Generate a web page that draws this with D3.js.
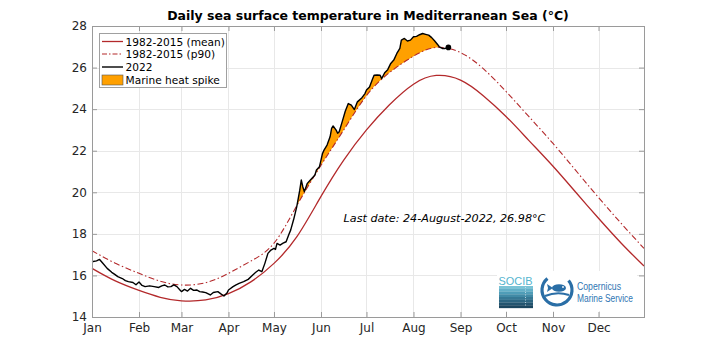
<!DOCTYPE html>
<html><head><meta charset="utf-8">
<script src="https://cdn.jsdelivr.net/npm/d3@7"></script>
<style>body{margin:0;background:#fff}svg{display:block}</style>
</head><body>
<svg id="chart" width="712" height="356"></svg>
<script>
// ---------- data ----------
const monthLabels = ["Jan","Feb","Mar","Apr","May","Jun","Jul","Aug","Sep","Oct","Nov","Dec"];
const monthStartDays = [0,31,59,90,120,151,181,212,243,273,304,334];
const yTicks = [14,16,18,20,22,24,26,28];

const climDays = [0,15,31,45,59,75,90,105,120,135,151,166,181,196,212,227,243,258,273,288,304,319,334,349,364];
const meanValues = [16.34,15.75,15.28,14.95,14.78,14.82,15.12,15.70,16.58,17.85,19.80,21.55,23.00,24.20,25.20,25.62,25.40,24.65,23.65,22.50,21.25,20.00,18.75,17.55,16.45];
const p90Values = [17.19,16.60,16.10,15.72,15.54,15.65,16.10,16.70,17.55,19.35,21.30,23.00,24.65,25.75,26.55,26.97,26.72,25.95,24.85,23.65,22.35,21.05,19.75,18.50,17.30];

const days2022 = [0,3,5,7,10,13,15,17,20,22,24,27,29,31,33,35,38,41,44,46,48,50,52,54,56,58,59,61,63,65,67,69,71,73,75,77,78,80,83,85,87,89,90,93,95,97,100,103,106,108,110,112,114,116,118,120,121,122,124,126,128,130,131,133,135,137,138,139,140,142,144,146,147,148,150,151,152,153,155,157,158,159,161,162,163,165,167,169,171,173,175,178,180,181,183,185,186,188,190,191,193,195,197,198,199,201,203,204,206,208,210,212,214,216,218,220,222,224,226,228,229,231,233,235];
const sst2022 = [16.66,16.70,16.77,16.60,16.34,16.15,16.05,15.94,15.85,15.75,15.70,15.66,15.55,15.68,15.52,15.46,15.50,15.46,15.42,15.50,15.54,15.45,15.46,15.55,15.46,15.30,15.22,15.33,15.25,15.38,15.28,15.30,15.22,15.20,15.17,15.10,15.06,15.18,15.22,15.11,15.01,15.15,15.30,15.46,15.55,15.62,15.70,15.81,16.02,16.15,16.26,16.18,16.58,17.06,17.22,17.30,17.25,17.54,17.46,17.55,17.62,18.00,18.18,18.70,19.30,20.10,20.59,20.27,20.03,20.43,20.59,20.75,20.83,21.07,21.23,21.55,21.87,22.03,22.27,22.67,23.07,23.19,22.99,22.84,22.91,23.40,23.90,24.27,24.19,23.98,24.35,24.55,24.75,24.92,25.07,25.45,25.63,25.64,25.63,25.47,25.75,25.90,26.20,26.28,26.36,26.68,26.92,27.32,27.40,27.28,27.32,27.48,27.50,27.58,27.64,27.60,27.56,27.44,27.28,27.10,27.00,26.92,26.92,26.97];

const titleText = "Daily sea surface temperature in Mediterranean Sea (°C)";
const legendLabels = ["1982-2015 (mean)","1982-2015 (p90)","2022","Marine heat spike"];
const lastDateText = "Last date: 24-August-2022, 26.98°C";

// ---------- layout ----------
const L = 92, R = 644, T = 26, B = 317;
const RED = "#b3292b", ORANGE = "#ffa000", FONT = "DejaVu Sans, sans-serif";
const svg = d3.select("#chart");
const x = d3.scaleLinear().domain([0,364]).range([L,R]);
const y = d3.scaleLinear().domain([14,28]).range([B,T]);

const clim = climDays.map((d,i)=>({d, mean:meanValues[i], p90:p90Values[i]}));
const obs = days2022.map((d,i)=>({d, v:sst2022[i]}));

// grid
const grid = svg.append("g").attr("stroke","#e8e8e8").attr("stroke-width",1);
grid.selectAll(".gx").data(monthStartDays.slice(1)).join("line")
  .attr("x1",d=>Math.round(x(d))+0.5).attr("x2",d=>Math.round(x(d))+0.5).attr("y1",T).attr("y2",B);
grid.selectAll(".gy").data(yTicks.slice(1,-1)).join("line")
  .attr("y1",d=>Math.round(y(d))+0.5).attr("y2",d=>Math.round(y(d))+0.5).attr("x1",L).attr("x2",R);

// clip: region above p90
const defs = svg.append("defs");
defs.append("clipPath").attr("id","abovep90").append("path")
  .attr("d", d3.area().x(c=>x(c.d)).y0(T).y1(c=>y(c.p90)).curve(d3.curveNatural)(clim));

// heat spike fill
svg.append("path").attr("clip-path","url(#abovep90)")
  .attr("d", d3.area().x(o=>x(o.d)).y0(B).y1(o=>y(o.v))(obs))
  .attr("fill",ORANGE).attr("stroke","none");

// mean & p90
svg.append("path").attr("d", d3.line().x(c=>x(c.d)).y(c=>y(c.mean)).curve(d3.curveNatural)(clim))
  .attr("fill","none").attr("stroke",RED).attr("stroke-width",1.3);
svg.append("path").attr("d", d3.line().x(c=>x(c.d)).y(c=>y(c.p90)).curve(d3.curveNatural)(clim))
  .attr("fill","none").attr("stroke",RED).attr("stroke-width",1.1).attr("stroke-dasharray","6,2.5,1.5,2.5");

// 2022
svg.append("path").attr("d", d3.line().x(o=>x(o.d)).y(o=>y(o.v))(obs))
  .attr("fill","none").attr("stroke","#000").attr("stroke-width",1.4).attr("stroke-linejoin","round");
const last = obs[obs.length-1];
svg.append("circle").attr("cx",x(last.d)).attr("cy",y(last.v)).attr("r",2.8).attr("fill","#000");

// axes
const xAxis = d3.axisBottom(x).tickValues(monthStartDays).tickFormat((d,i)=>monthLabels[i]).tickSizeInner(-5).tickSizeOuter(0).tickPadding(6);
const gx = svg.append("g").attr("transform",`translate(0,${B})`).call(xAxis);
const yAxis = d3.axisLeft(y).tickValues(yTicks).tickSizeInner(-5).tickSizeOuter(0).tickPadding(5);
const gy = svg.append("g").attr("transform",`translate(${L},0)`).call(yAxis);
// mirrored ticks
const gxt = svg.append("g").attr("transform",`translate(0,${T})`).call(d3.axisTop(x).tickValues(monthStartDays).tickFormat("").tickSizeInner(-5).tickSizeOuter(0));
const gyr = svg.append("g").attr("transform",`translate(${R},0)`).call(d3.axisRight(y).tickValues(yTicks).tickFormat("").tickSizeInner(-5).tickSizeOuter(0));
[gx,gy,gxt,gyr].forEach(g=>{
  g.select(".domain").remove();
  g.selectAll("line").attr("stroke","#9a9a9a");
  g.selectAll("text").attr("font-family",FONT).attr("font-size",12).attr("fill","#262626");
});
svg.append("rect").attr("x",L+0.5).attr("y",T+0.5).attr("width",R-L).attr("height",B-T)
  .attr("fill","none").attr("stroke","#9a9a9a").attr("stroke-width",1);

// title
svg.append("text").attr("x",368).attr("y",20).attr("text-anchor","middle")
  .attr("font-family",FONT).attr("font-weight","bold").attr("font-size",12.5).attr("fill","#000").text(titleText);

// legend
const lg = svg.append("g");
lg.append("rect").attr("x",99.5).attr("y",33.5).attr("width",127).attr("height",54)
  .attr("fill","#fff").attr("stroke","#a0a0a0").attr("stroke-width",1);
const rowY = [41.5,54,67,80];
lg.append("line").attr("x1",102).attr("x2",123).attr("y1",rowY[0]).attr("y2",rowY[0]).attr("stroke",RED).attr("stroke-width",1.3);
lg.append("line").attr("x1",102).attr("x2",123).attr("y1",rowY[1]).attr("y2",rowY[1]).attr("stroke",RED).attr("stroke-width",1.1).attr("stroke-dasharray","5,2,1.5,2");
lg.append("line").attr("x1",102).attr("x2",123).attr("y1",rowY[2]).attr("y2",rowY[2]).attr("stroke","#000").attr("stroke-width",1.4);
lg.append("rect").attr("x",102).attr("y",rowY[3]-5).attr("width",21).attr("height",10).attr("fill",ORANGE).attr("stroke","#555").attr("stroke-width",0.6);
lg.selectAll("text.lab").data(legendLabels).join("text").attr("class","lab")
  .attr("x",125.5).attr("y",(d,i)=>rowY[i]+4).attr("font-family",FONT).attr("font-size",10.6).attr("fill","#000").text(d=>d);

// annotation
svg.append("text").attr("x",444.5).attr("y",222).attr("text-anchor","middle")
  .attr("font-family",FONT).attr("font-style","italic").attr("font-size",11.2).attr("fill","#000").text(lastDateText);

// logos
const logo = svg.append("g");
logo.append("rect").attr("x",497).attr("y",271).attr("width",140).attr("height",40).attr("fill","#fff");
logo.append("text").attr("x",498.5).attr("y",284.5).attr("font-family","Liberation Sans, sans-serif").attr("font-size",11.5)
  .attr("fill","#54b5cf").attr("textLength",34).attr("lengthAdjust","spacingAndGlyphs").text("SOCIB");
const bandColors = ["#7ac3d6","#63b0c8","#4f9db8","#418aa6","#367894","#2c6682","#235570","#1b465f"];
logo.selectAll("rect.band").data(bandColors).join("rect").attr("class","band")
  .attr("x",499).attr("y",(d,i)=>286+i*2.75).attr("width",34).attr("height",2.9).attr("fill",d=>d);
logo.append("line").attr("x1",525.5).attr("x2",525.5).attr("y1",287).attr("y2",307).attr("stroke","#cfe6ee").attr("stroke-width",0.8).attr("stroke-dasharray","1,1.5");
// copernicus emblem
const cx0 = 557, cy0 = 290, rr = 15;
logo.append("path").attr("d", d3.arc().innerRadius(rr-1.6).outerRadius(rr+1.6).startAngle(Math.PI*0.28).endAngle(Math.PI*1.78)())
  .attr("transform",`translate(${cx0},${cy0})`).attr("fill","#2a6ea6");
logo.append("path").attr("d",`M${cx0-12},${cy0+6} Q${cx0},${cy0+1} ${cx0+12},${cy0+5}`).attr("fill","none").attr("stroke","#2a6ea6").attr("stroke-width",2);
logo.append("ellipse").attr("cx",cx0+2).attr("cy",cy0-2).attr("rx",7).attr("ry",3.8).attr("fill","#2a6ea6");
logo.append("path").attr("d",`M${cx0-4},${cy0-2} L${cx0-10},${cy0-6} L${cx0-9},${cy0-2} L${cx0-10},${cy0+2} Z`).attr("fill","#2a6ea6");
logo.append("circle").attr("cx",cx0+6).attr("cy",cy0-3).attr("r",0.9).attr("fill","#fff");
logo.append("text").attr("x",577).attr("y",290).attr("font-family","Liberation Sans, sans-serif").attr("font-size",10)
  .attr("fill","#2f76b3").attr("textLength",44).attr("lengthAdjust","spacingAndGlyphs").text("Copernicus");
logo.append("text").attr("x",577).attr("y",302).attr("font-family","Liberation Sans, sans-serif").attr("font-size",10)
  .attr("fill","#2f76b3").attr("textLength",56).attr("lengthAdjust","spacingAndGlyphs").text("Marine Service");
</script>
</body></html>
